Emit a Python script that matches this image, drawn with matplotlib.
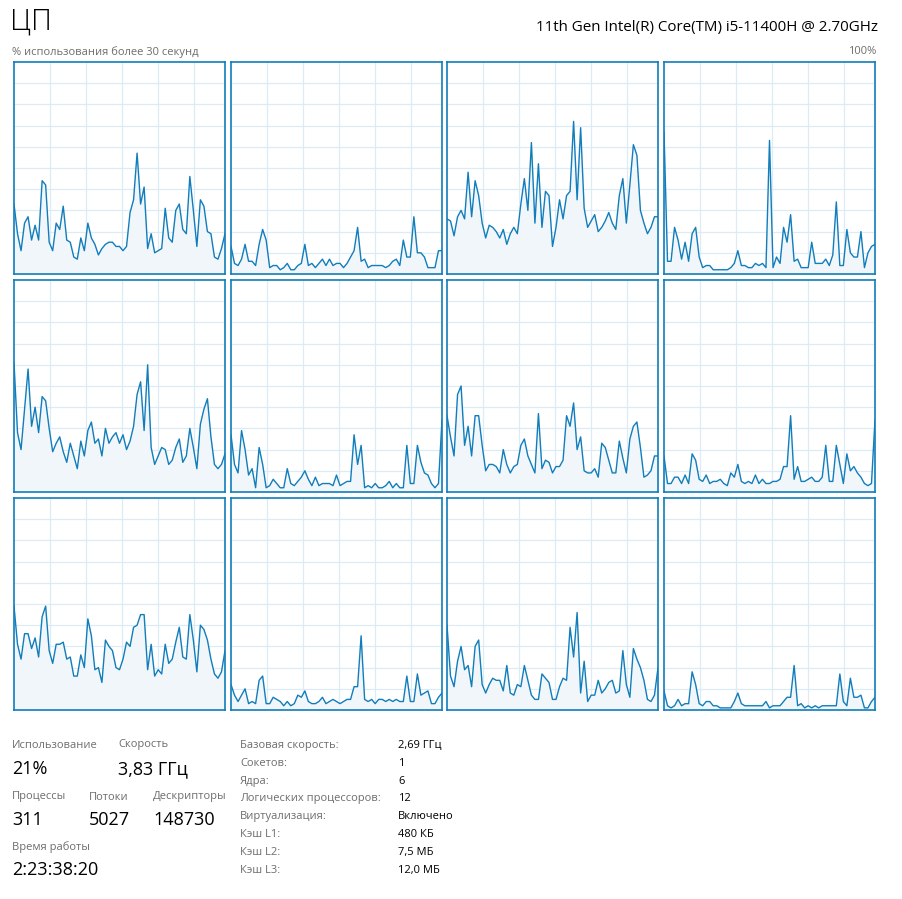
import numpy as np
import matplotlib.pyplot as plt

plt.rcParams['font.family'] = ['Open Sans', 'DejaVu Sans']

# per-core usage, % (12 logical processors, last 30 s)
core1 = [33, 19, 11, 24, 27, 16, 23, 16, 44, 42, 15, 11, 24, 21, 32, 16, 15, 8, 7, 17, 11, 24, 17, 14, 9, 12, 14,
         15, 15, 13, 13, 11, 13, 29, 35, 57, 33, 41, 12, 19, 10, 11, 12, 31, 17, 15, 30, 33, 21, 19, 46, 30, 13, 35,
         32, 20, 19, 8, 7, 12, 19]
core2 = [13, 5, 4, 7, 14, 6, 6, 4, 14, 21, 16, 3, 4, 4, 2, 3, 5, 2, 2, 4, 5, 14, 4, 5, 3, 5, 7, 4, 7, 4, 5, 5, 3, 5,
         8, 11, 22, 6, 7, 3, 4, 4, 4, 4, 3, 4, 6, 7, 4, 16, 8, 8, 27, 10, 10, 8, 3, 3, 3, 11, 11]
core3 = [26, 25, 18, 27, 30, 26, 48, 27, 44, 37, 24, 17, 23, 22, 20, 17, 21, 14, 19, 22, 19, 33, 45, 30, 62, 24, 52,
         22, 39, 37, 13, 22, 35, 26, 37, 39, 72, 35, 69, 31, 22, 25, 28, 20, 22, 25, 29, 24, 21, 37, 45, 24, 42, 61,
         56, 30, 24, 19, 22, 27, 27]
core4 = [67, 6, 6, 22, 16, 7, 15, 6, 19, 22, 8, 3, 4, 4, 2, 2, 2, 2, 2, 3, 5, 11, 4, 4, 3, 3, 5, 4, 5, 3, 63, 3, 8,
         5, 22, 15, 28, 6, 7, 3, 3, 3, 15, 5, 5, 5, 7, 4, 9, 34, 4, 4, 21, 10, 8, 8, 20, 3, 10, 13, 14]
core5 = [61, 28, 20, 39, 58, 31, 40, 28, 45, 43, 30, 19, 23, 26, 19, 14, 23, 17, 11, 24, 17, 29, 33, 23, 25, 17, 30,
         23, 26, 28, 23, 27, 20, 24, 31, 46, 52, 29, 60, 21, 13, 17, 21, 20, 13, 15, 21, 25, 14, 17, 30, 21, 11, 32,
         39, 44, 26, 13, 11, 13, 18]
core6 = [27, 13, 9, 29, 20, 8, 11, 2, 21, 13, 2, 3, 6, 4, 2, 2, 11, 4, 3, 5, 7, 10, 6, 3, 7, 3, 4, 4, 4, 3, 8, 3, 4,
         5, 5, 27, 13, 22, 2, 3, 2, 4, 2, 2, 3, 5, 2, 4, 2, 2, 22, 4, 4, 22, 14, 9, 8, 4, 2, 4, 34]
core7 = [36, 26, 17, 46, 50, 22, 31, 17, 36, 36, 22, 10, 13, 13, 12, 9, 20, 13, 9, 12, 13, 22, 25, 17, 13, 9, 37, 11,
         15, 14, 9, 12, 12, 15, 36, 31, 42, 20, 26, 10, 9, 9, 11, 7, 23, 21, 15, 9, 9, 24, 16, 9, 25, 31, 33, 21, 7,
         8, 10, 17, 17]
core8 = [17, 4, 4, 7, 7, 4, 8, 4, 18, 15, 6, 5, 8, 4, 5, 5, 6, 4, 3, 9, 7, 13, 5, 4, 5, 4, 8, 4, 6, 4, 4, 5, 5, 6,
         12, 12, 36, 6, 12, 5, 5, 6, 7, 5, 5, 7, 22, 5, 5, 22, 13, 4, 18, 10, 12, 9, 7, 4, 3, 4, 34]
core9 = [49, 31, 24, 36, 36, 29, 34, 25, 44, 49, 28, 22, 31, 31, 32, 24, 25, 16, 16, 26, 20, 43, 35, 19, 20, 13, 33,
         30, 28, 20, 19, 24, 32, 30, 39, 40, 45, 45, 19, 31, 16, 19, 17, 31, 22, 24, 32, 39, 25, 24, 45, 33, 18, 40,
         38, 33, 24, 17, 15, 18, 28]
core10 = [12, 7, 4, 7, 10, 3, 4, 3, 14, 16, 3, 3, 6, 5, 4, 2, 4, 2, 3, 7, 6, 9, 4, 3, 3, 4, 6, 3, 4, 5, 4, 3, 4, 5,
          5, 11, 11, 35, 5, 4, 5, 3, 5, 5, 4, 5, 4, 5, 4, 4, 16, 4, 4, 17, 7, 8, 9, 3, 3, 6, 8]
core11 = [40, 16, 11, 23, 30, 19, 21, 11, 30, 33, 12, 8, 12, 15, 14, 14, 9, 21, 8, 7, 12, 11, 21, 14, 7, 5, 5, 17,
          15, 13, 5, 5, 11, 15, 14, 39, 25, 46, 8, 23, 4, 7, 7, 14, 8, 10, 13, 14, 8, 9, 28, 12, 6, 29, 24, 20, 14, 5,
          4, 7, 20]
core12 = [9, 2, 1, 2, 5, 2, 3, 3, 18, 12, 3, 2, 4, 4, 2, 2, 1, 1, 1, 1, 4, 8, 3, 2, 2, 2, 2, 2, 2, 4, 1, 2, 2, 2, 4,
          6, 6, 21, 2, 3, 1, 2, 1, 2, 1, 2, 2, 2, 2, 2, 17, 4, 2, 15, 6, 6, 7, 1, 1, 4, 6]
cores = [core1, core2, core3, core4, core5, core6, core7, core8, core9, core10, core11, core12]

stat_labels = ['Базовая скорость:', 'Сокетов:', 'Ядра:', 'Логических процессоров:', 'Виртуализация:',
               'Кэш L1:', 'Кэш L2:', 'Кэш L3:']
stat_values = ['2,69 ГГц', '1', '6', '12', 'Включено', '480 КБ', '7,5 МБ', '12,0 МБ']

W, H = 903, 899
BLUE = '#117dbb'
GRID = '#dcecf6'
FILL = '#f1f6fa'
GRAY = '#6d6d6d'

fig = plt.figure(figsize=(W / 100, H / 100), dpi=100)
fig.patch.set_facecolor('white')

col_x = [14, 231, 447, 664]
row_y = [62, 280, 498]
pw, ph = 211, 212

for i, vals in enumerate(cores):
    x0 = col_x[i % 4]
    y0 = row_y[i // 4]
    ax = fig.add_axes([x0 / W, 1 - (y0 + ph) / H, pw / W, ph / H])
    n = len(vals)
    xs = np.arange(n)
    ax.set_xlim(0, n - 1)
    ax.set_ylim(0, 100)
    for g in range(10, 100, 10):
        ax.axhline(g, color=GRID, lw=0.9, zorder=0)
    step = (n - 1) * 36 / pw
    for k in range(1, 6):
        ax.axvline(k * step, color=GRID, lw=0.9, zorder=0)
    ax.fill_between(xs, vals, 0, color=FILL, lw=0, zorder=1)
    ax.plot(xs, vals, color=BLUE, lw=1.0, zorder=2)
    ax.set_xticks([])
    ax.set_yticks([])
    for sp in ax.spines.values():
        sp.set_color(BLUE)
        sp.set_linewidth(1.2)


def put(x, y, s, size, color='black', ha='left', weight='normal'):
    fig.text(x / W, 1 - y / H, s, fontsize=size, color=color, ha=ha, va='center', fontweight=weight)


put(10, 22, 'ЦП', 21, weight='light')
put(878, 27, '11th Gen Intel(R) Core(TM) i5-11400H @ 2.70GHz', 10.9, ha='right')
put(12, 52, '% использования более 30 секунд', 8, GRAY)
put(876, 52, '100%', 8, GRAY, ha='right')

# left stats block
put(12, 745, 'Использование', 8, GRAY)
put(12, 769, '21%', 13)
put(118, 745, 'Скорость', 8, GRAY)
put(118, 769, '3,83 ГГц', 13)
put(12, 797, 'Процессы', 8, GRAY)
put(12, 820, '311', 13)
put(89, 797, 'Потоки', 8, GRAY)
put(89, 820, '5027', 13)
put(153, 797, 'Дескрипторы', 8, GRAY)
put(153, 820, '148730', 13)
put(12, 847, 'Время работы', 8, GRAY)
put(12, 870, '2:23:38:20', 13)

for j, (lab, val) in enumerate(zip(stat_labels, stat_values)):
    y = 745.5 + j * 17.8
    put(240, y, lab, 8, GRAY)
    put(398, y, val, 8)

fig.savefig('out.png', dpi=100, facecolor='white')
